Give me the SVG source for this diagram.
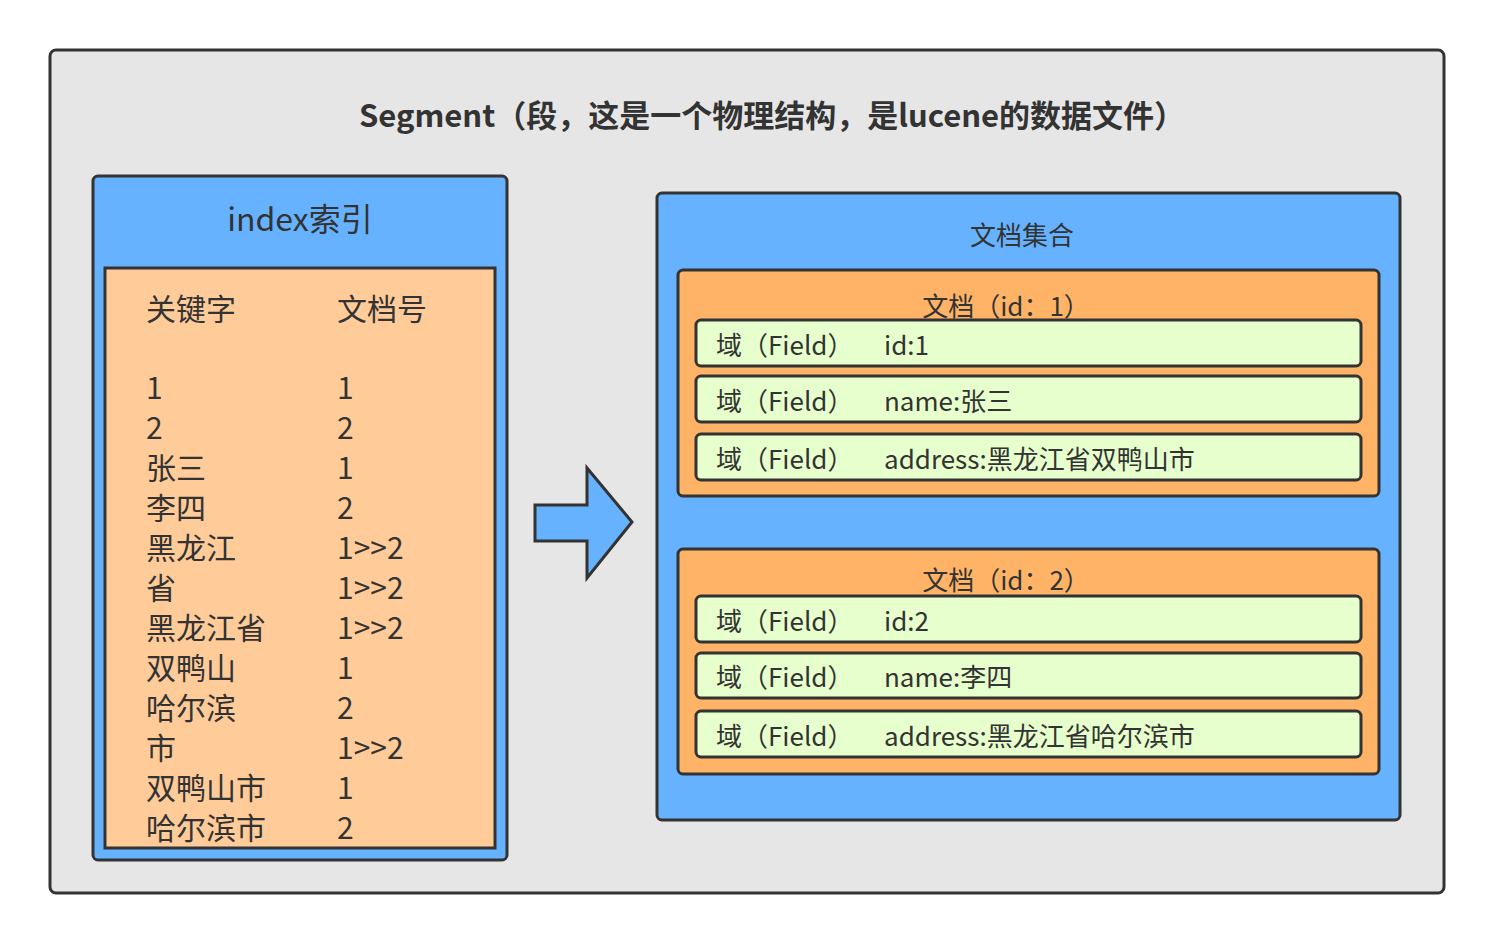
<svg xmlns="http://www.w3.org/2000/svg" width="1494" height="944" viewBox="0 0 1494 944">
<style>
text{font-family:"Noto Sans CJK SC","Noto Sans",sans-serif;fill:#333}
.b{fill:#66b2ff;stroke:#333;stroke-width:3}
.o{fill:#ffcc99;stroke:#333;stroke-width:3}
.d{fill:#ffb366;stroke:#333;stroke-width:3}
.f{fill:#e6ffcc;stroke:#333;stroke-width:3}
.t{font-size:30px}
.s{font-size:26px}
</style>
<rect width="1494" height="944" fill="#fff"/>
<g id="segment">
<rect x="50" y="50" width="1394" height="843" rx="6" fill="#e6e6e6" stroke="#333" stroke-width="3"/>
<text x="772" y="127" text-anchor="middle" font-size="31" font-weight="bold">Segment（段，这是一个物理结构，是lucene的数据文件）</text>
</g>
<g id="index">
<rect class="b" x="93" y="176" width="414" height="684" rx="5"/>
<text x="300" y="231" text-anchor="middle" font-size="32">index索引</text>
<rect class="o" x="105" y="268" width="390" height="580"/>
<g class="t">
<text x="146" y="320">关键字</text><text x="337" y="320">文档号</text>
<text x="146" y="399">1</text><text x="337" y="399">1</text>
<text x="146" y="439">2</text><text x="337" y="439">2</text>
<text x="146" y="479">张三</text><text x="337" y="479">1</text>
<text x="146" y="519">李四</text><text x="337" y="519">2</text>
<text x="146" y="559">黑龙江</text><text x="337" y="559">1&gt;&gt;2</text>
<text x="146" y="599">省</text><text x="337" y="599">1&gt;&gt;2</text>
<text x="146" y="639">黑龙江省</text><text x="337" y="639">1&gt;&gt;2</text>
<text x="146" y="679">双鸭山</text><text x="337" y="679">1</text>
<text x="146" y="719">哈尔滨</text><text x="337" y="719">2</text>
<text x="146" y="759">市</text><text x="337" y="759">1&gt;&gt;2</text>
<text x="146" y="799">双鸭山市</text><text x="337" y="799">1</text>
<text x="146" y="839">哈尔滨市</text><text x="337" y="839">2</text>
</g>
</g>
<g id="connectors">
<path class="b" d="M535,505 H587 V468 L632,522 L587,578 V541 H535 Z"/>
</g>
<g id="docs">
<rect class="b" x="657" y="193" width="743" height="627" rx="5"/>
<text x="1022" y="245" text-anchor="middle" class="s">文档集合</text>
</g>
<g id="doc1">
<rect class="d" x="678" y="270" width="701" height="226" rx="5"/>
<text x="1006" y="316" text-anchor="middle" class="s">文档（id：1）</text>
<rect class="f" x="696" y="320" width="665" height="46" rx="5"/>
<text x="716" y="355" class="s">域（Field）</text><text x="884" y="355" class="s">id:1</text>
<rect class="f" x="696" y="376" width="665" height="46" rx="5"/>
<text x="716" y="411" class="s">域（Field）</text><text x="884" y="411" class="s">name:张三</text>
<rect class="f" x="696" y="434" width="665" height="46" rx="5"/>
<text x="716" y="469" class="s">域（Field）</text><text x="884" y="469" class="s">address:黑龙江省双鸭山市</text>
</g>
<g id="doc2">
<rect class="d" x="678" y="549" width="701" height="225" rx="5"/>
<text x="1006" y="590" text-anchor="middle" class="s">文档（id：2）</text>
<rect class="f" x="696" y="596" width="665" height="46" rx="5"/>
<text x="716" y="631" class="s">域（Field）</text><text x="884" y="631" class="s">id:2</text>
<rect class="f" x="696" y="653" width="665" height="45" rx="5"/>
<text x="716" y="687" class="s">域（Field）</text><text x="884" y="687" class="s">name:李四</text>
<rect class="f" x="696" y="711" width="665" height="46" rx="5"/>
<text x="716" y="746" class="s">域（Field）</text><text x="884" y="746" class="s">address:黑龙江省哈尔滨市</text>
</g>
</svg>
